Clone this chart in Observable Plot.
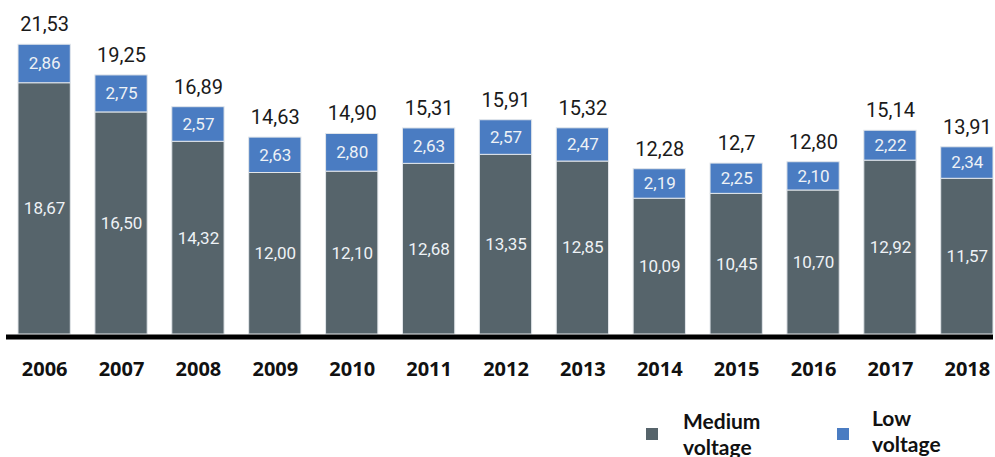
<!DOCTYPE html>
<html><head><meta charset="utf-8">
<script src="https://cdn.jsdelivr.net/npm/d3@7"></script>
<script src="https://cdn.jsdelivr.net/npm/@observablehq/plot@0.6"></script>
<style>
body{margin:0;background:#fff;overflow:hidden}
#wrap{position:relative;width:995px;height:457px;overflow:hidden}
.leg{position:absolute;font-family:Lato,sans-serif;font-weight:700;font-size:21px;line-height:21px;height:21px;color:#111;white-space:nowrap}
.sw{position:absolute;width:12px;height:12px}
</style></head>
<body><div id="wrap"></div>
<script>
const years = ["2006","2007","2008","2009","2010","2011","2012","2013","2014","2015","2016","2017","2018"];
const medium = [18.67,16.50,14.32,12.00,12.10,12.68,13.35,12.85,10.09,10.45,10.70,12.92,11.57];
const low = [2.86,2.75,2.57,2.63,2.80,2.63,2.57,2.47,2.19,2.25,2.10,2.22,2.34];
const totalLabels = ["21,53","19,25","16,89","14,63","14,90","15,31","15,91","15,32","12,28","12,7","12,80","15,14","13,91"];
const seriesNames = ["Medium voltage","Low voltage"];
const colors = ["#56646b","#4a7cc2"];

const fmt = v => d3.format(".2f")(v).replace(".", ",");
const rows = [];
years.forEach((y, i) => {
  rows.push({year: y, series: seriesNames[0], y1: 0, y2: medium[i], label: fmt(medium[i])});
  rows.push({year: y, series: seriesNames[1], y1: medium[i], y2: medium[i] + low[i], label: fmt(low[i])});
});
const totals = years.map((y, i) => ({year: y, total: medium[i] + low[i], label: totalLabels[i]}));

const chart = Plot.plot({
  width: 995, height: 400,
  marginLeft: 18, marginRight: 2, marginTop: 11, marginBottom: 66,
  x: {domain: years, paddingInner: 0.32, paddingOuter: 0, round: false, label: null},
  y: {domain: [0, 24], axis: null},
  color: {domain: seriesNames, range: colors},
  marks: [
    Plot.barY(rows, {x: "year", y1: "y1", y2: "y2", fill: "series", stroke: "#e2e6ea", strokeWidth: 1}),
    Plot.text(rows, {x: "year", y: d => (d.y1 + d.y2) / 2, text: "label", fill: "#eef2f6", fontSize: 17, fontFamily: "Roboto"}),
    Plot.text(totals, {x: "year", y: "total", text: "label", dy: -20, fill: "#1a1a1a", fontSize: 20, fontFamily: "Roboto"}),
    Plot.ruleY([0], {stroke: "#000", strokeWidth: 5, dy: 2.5, insetLeft: -12}),
    Plot.axisX({tickSize: 0, tickPadding: 27, fontSize: 20, fontWeight: 700, fontFamily: "Open Sans", fill: "#111", label: null})
  ]
});
const wrap = document.getElementById("wrap");
wrap.appendChild(chart);

const legend = [
  {lines: ["Medium", "voltage"], color: colors[0], sx: 646, sy: 428, tx: 683, ty: 410},
  {lines: ["Low", "voltage"], color: colors[1], sx: 837, sy: 428, tx: 872, ty: 407}
];
legend.forEach(l => {
  const s = document.createElement("div");
  s.className = "sw"; s.style.left = l.sx + "px"; s.style.top = l.sy + "px"; s.style.background = l.color;
  wrap.appendChild(s);
  l.lines.forEach((line, j) => {
    const t = document.createElement("div");
    t.className = "leg"; t.style.left = l.tx + "px"; t.style.top = (l.ty + j * 25.5) + "px"; t.textContent = line;
    wrap.appendChild(t);
  });
});
</script></body></html>
